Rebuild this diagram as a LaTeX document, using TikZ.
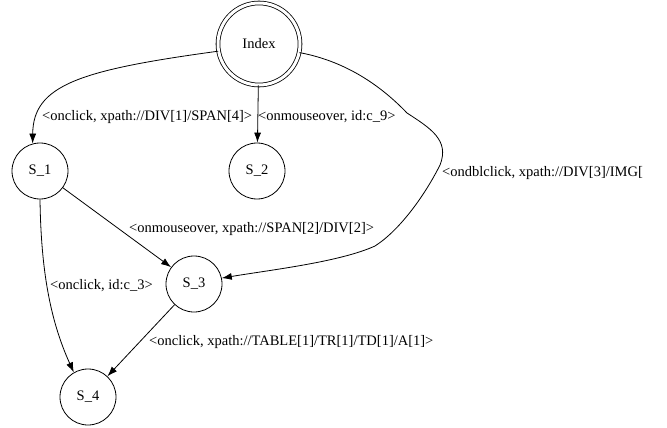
\documentclass[tikz,border=0pt]{standalone}
\usepackage{fontspec}
\setmainfont{Liberation Serif}
\usetikzlibrary{arrows.meta}

\begin{document}
\begin{tikzpicture}[x=1pt, y=-1pt,
    statenode/.style={draw, circle, line width=0.8pt, minimum size=56pt, inner sep=0pt,
        font=\fontsize{14.5}{17}\selectfont},
    lbl/.style={anchor=west, inner sep=0pt, font=\fontsize{14.5}{17}\selectfont},
    trans/.style={line width=0.8pt, -{Latex[length=10pt, width=7pt]}}]
    % Canvas in pixel units (origin top left)
    \useasboundingbox (0,0) rectangle (667,428);

    % States
    \node[statenode, double, double distance=3pt, minimum size=82pt] (idx) at (259,44) {Index};
    \node[statenode] (s1) at (40,171) {S\_1};
    \node[statenode] (s2) at (257,171) {S\_2};
    \node[statenode] (s3) at (194,284) {S\_3};
    \node[statenode] (s4) at (88,397) {S\_4};

    % Transitions out of Index
    \draw[trans] (idx.190) .. controls (80,70) and (33,85) .. (s1.105);
    \draw[trans] (idx) -- (s2);
    \draw[trans] (idx.-12) .. controls (350,62) and (385,90) .. (407,113)
        .. controls (430,128) and (450,140) .. (440,165)
        .. controls (425,195) and (400,230) .. (375,246)
        .. controls (340,262) and (270,270) .. (s3.12);

    % Transitions between the S states
    \draw[trans] (s1) -- (s3);
    \draw[trans] (s1.south) .. controls (41,270) and (50,320) .. (s4.120);
    \draw[trans] (s3) -- (s4);

    % Labels
    \node[lbl] (l1) at (42,117) {<onclick, xpath://DIV[1]/SPAN[4]>};
    \node[lbl] (l2) at (258,117) {<onmouseover, id:c\_9>};
    \node[lbl] (l3) at (442,173) {<ondblclick, xpath://DIV[3]/IMG[};
    \node[lbl] (l4) at (129,229) {<onmouseover, xpath://SPAN[2]/DIV[2]>};
    \node[lbl] (l5) at (50,286) {<onclick, id:c\_3>};
    \node[lbl] (l6) at (149,342) {<onclick, xpath://TABLE[1]/TR[1]/TD[1]/A[1]>};
\end{tikzpicture}
\end{document}
